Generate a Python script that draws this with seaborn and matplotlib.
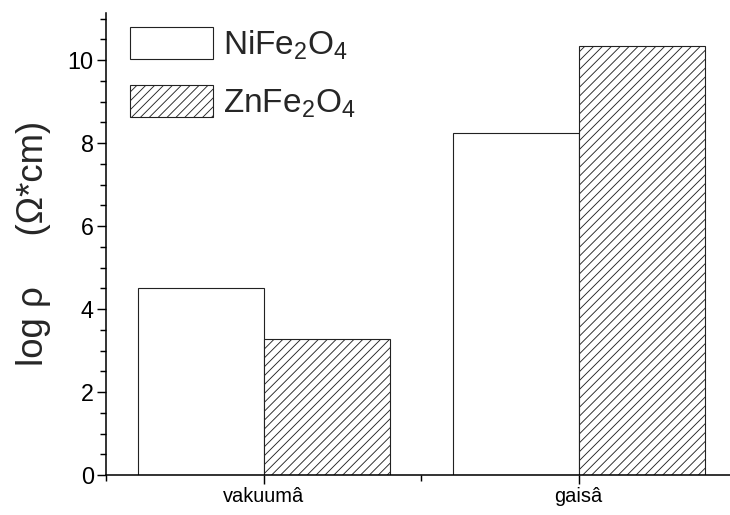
import pandas as pd
import matplotlib
matplotlib.use("Agg")
import matplotlib.pyplot as plt
import seaborn as sns
from matplotlib.ticker import MultipleLocator

atmosphere = ["vakuumâ", "gaisâ"]
ferrites = ["NiFe$_2$O$_4$", "ZnFe$_2$O$_4$"]
ni_values = [4.51, 8.25]
zn_values = [3.28, 10.35]

df = pd.DataFrame({
    "atm": atmosphere * 2,
    "ferrite": [ferrites[0]] * 2 + [ferrites[1]] * 2,
    "logrho": ni_values + zn_values,
})

sns.set_style("ticks")
plt.rcParams["font.family"] = ["Liberation Sans", "DejaVu Sans"]
plt.rcParams["mathtext.fontset"] = "custom"
plt.rcParams["mathtext.rm"] = "Liberation Sans"
plt.rcParams["mathtext.it"] = "Liberation Sans"
plt.rcParams["hatch.linewidth"] = 0.8
plt.rcParams["hatch.color"] = "#333333"

fig = plt.figure(figsize=(730 / 80, 515 / 80), dpi=80)
ax = fig.add_axes([106 / 730, 40 / 515, 630 / 730, 462.5 / 515])

sns.barplot(data=df, x="atm", y="logrho", hue="ferrite", order=atmosphere,
            hue_order=ferrites, ax=ax, width=0.8, legend=False)

for cont, hatch in zip(ax.containers, ["", "///"]):
    for p in cont:
        p.set_facecolor("white")
        p.set_edgecolor("#222222")
        p.set_linewidth(1.0)
        p.set_hatch(hatch)

ax.set_xlim(-0.5, 1.5)
ax.set_ylim(0, 11.15)
ax.yaxis.set_major_locator(MultipleLocator(2))
ax.yaxis.set_minor_locator(MultipleLocator(0.5))
ax.xaxis.set_minor_locator(MultipleLocator(0.5))
ax.tick_params(axis="both", which="major", direction="out", length=8, width=1.3,
               color="black", labelcolor="black", pad=3)
ax.tick_params(axis="y", which="major", labelsize=21)
ax.tick_params(axis="x", which="major", labelsize=18)
ax.tick_params(axis="both", which="minor", direction="out", length=5, width=1.3,
               color="black")
ax.xaxis.set_minor_formatter(plt.NullFormatter())
for s in ["top", "right"]:
    ax.spines[s].set_visible(False)
for s in ["left", "bottom"]:
    ax.spines[s].set_linewidth(1.4)
    ax.spines[s].set_color("black")

ax.set_xlabel("")
ax.set_ylabel("log ρ     (Ω*cm)", fontsize=33, labelpad=15)

ax.legend(ax.containers, ferrites, loc="upper left", bbox_to_anchor=(0.038, 0.968),
          frameon=False, fontsize=30, handlelength=2.5, handleheight=1.1,
          labelspacing=0.7, handletextpad=0.3, borderaxespad=0, borderpad=0)

fig.savefig("out.png", dpi=80)
